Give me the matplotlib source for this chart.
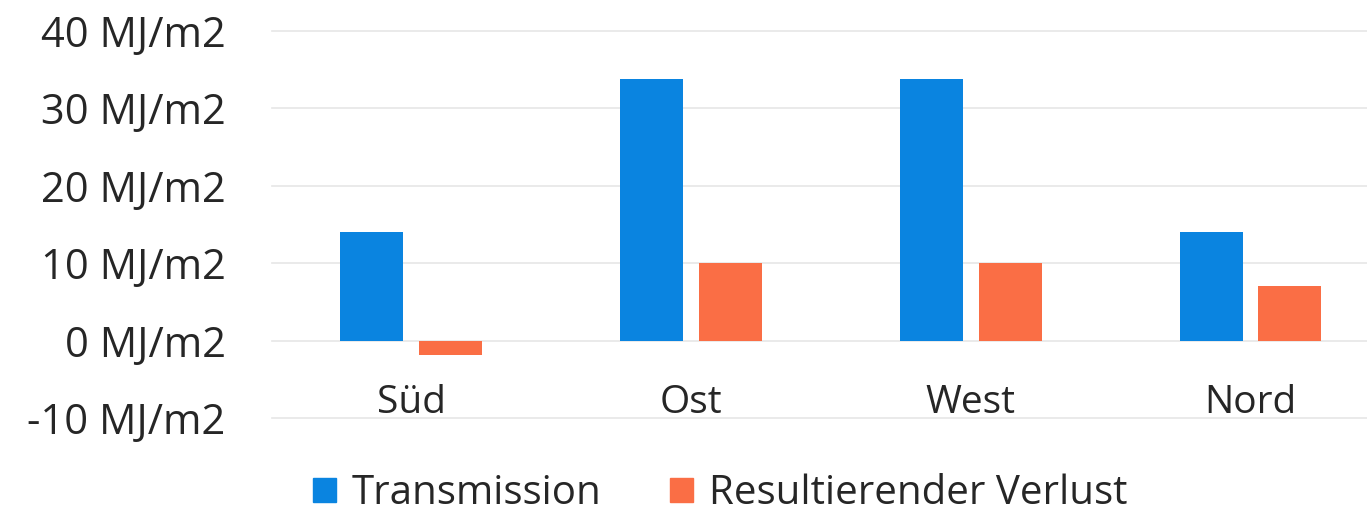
import matplotlib
matplotlib.use("Agg")
import matplotlib.pyplot as plt
import numpy as np
from matplotlib.patches import Patch

categories = ["Süd", "Ost", "West", "Nord"]
transmission = [14.0, 33.8, 33.8, 14.0]
verlust = [-1.9, 10.0, 10.0, 7.0]
yticks = [-10, 0, 10, 20, 30, 40]
ytick_labels = [f"{v} MJ/m2" for v in yticks]

plt.rcParams['font.family'] = ['Open Sans', 'DejaVu Sans']

blue = "#0A84E0"
orange = "#FA6E45"

fig = plt.figure(figsize=(13.67, 5.17), dpi=100)
ax = fig.add_axes([271.5/1367, (517-418)/517, 1 - 271.5/1367, (418-31)/517])

x = np.arange(len(categories))
w = 0.225
off = 0.141
ax.bar(x - off, transmission, w, color=blue, zorder=3)
ax.bar(x + off, verlust, w, color=orange, zorder=3)

ax.set_xlim(-0.5, 3.4165)
ax.set_ylim(-10, 40)
ax.set_yticks(yticks)
ax.set_yticklabels(ytick_labels)
ax.yaxis.grid(True, color="#E6E6E6", linewidth=1.2, zorder=0)
for g in ax.yaxis.get_gridlines():
    g.set_clip_on(False)
ax.set_axisbelow(True)
for s in ax.spines.values():
    s.set_visible(False)
ax.spines['bottom'].set_position(('data', 0))
ax.set_xticks(x)
ax.set_xticklabels(categories)
ax.tick_params(axis='x', length=0, pad=31, labelsize=28, labelcolor="#262626")
ax.tick_params(axis='y', length=0, pad=33, labelsize=30, labelcolor="#262626")

handles = [Patch(color=blue, label="Transmission"), Patch(color=orange, label="Resultierender Verlust")]
fig.legend(handles=handles, loc='center', bbox_to_anchor=(0.527, 1 - 494/517), ncol=2,
           frameon=False, fontsize=29, handlelength=0.57, handleheight=0.57,
           handletextpad=0.4, columnspacing=1.7, labelcolor="#262626",
           borderpad=0.1)

fig.savefig("out.png", dpi=100)
